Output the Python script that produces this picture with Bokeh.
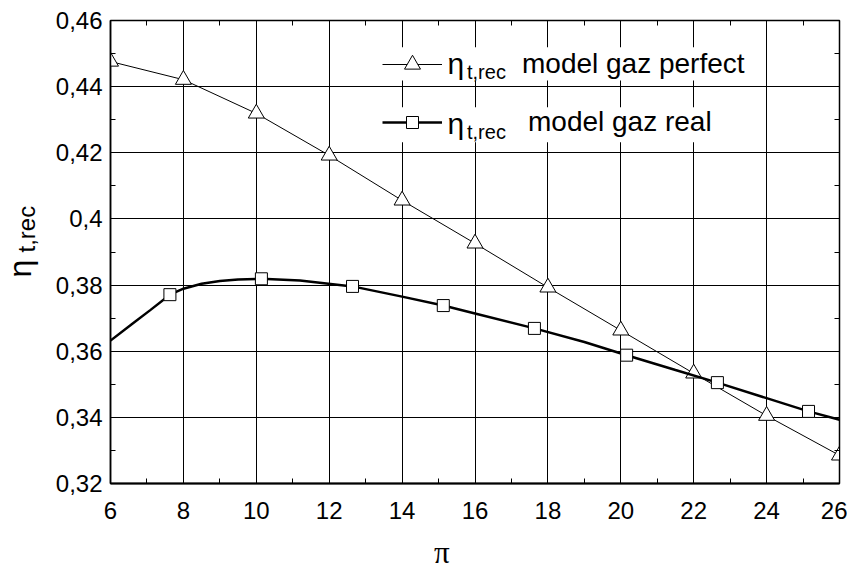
import numpy as np
from bokeh.plotting import figure
from bokeh.layouts import row, column
from bokeh.models import (Range1d, FixedTicker, LinearAxis, Legend, LegendItem, Label,
                          BoxAnnotation)
from bokeh.core.properties import value
from bokeh.embed import file_html
from bokeh.resources import INLINE

# ---------------- data ----------------
x_ticks = [6, 8, 10, 12, 14, 16, 18, 20, 22, 24, 26]
x_minor = [7, 9, 11, 13, 15, 17, 19, 21, 23, 25]
x_tick_labels = ["6", "8", "10", "12", "14", "16", "18", "20", "22", "24", "26"]
y_ticks = [0.32, 0.34, 0.36, 0.38, 0.40, 0.42, 0.44, 0.46]
y_minor = [0.33, 0.35, 0.37, 0.39, 0.41, 0.43, 0.45]
y_tick_labels = ["0,32", "0,34", "0,36", "0,38", "0,4", "0,42", "0,44", "0,46"]

# model gaz perfect (triangles)
perfect_x = [6, 8, 10, 12, 14, 16, 18, 20, 22, 24, 26]
perfect_y = [0.4476, 0.4421, 0.4319, 0.4192, 0.4056, 0.3926, 0.3793, 0.3663, 0.3533, 0.3405, 0.3285]

# model gaz real (squares) - curve and markers
real_line_x = [6.0, 6.6, 7.1, 7.63, 8.0, 8.5, 9.0, 9.5, 10.14, 11.2, 12.64, 14.0, 15.13,
               16.0, 17.63, 19.0, 20.16, 21.5, 22.65, 24.0, 25.15, 26.0]
real_line_y = [0.3632, 0.3683, 0.3725, 0.3771, 0.3789, 0.3804, 0.3812, 0.3817, 0.3819, 0.3814,
               0.3796, 0.3765, 0.3738, 0.3714, 0.3669, 0.3628, 0.3588, 0.3543, 0.3505, 0.3458,
               0.3418, 0.3393]
real_marker_x = [7.63, 10.14, 12.64, 15.13, 17.63, 20.16, 22.65, 25.15]
real_marker_y = [0.3771, 0.3819, 0.3796, 0.3738, 0.3669, 0.3588, 0.3505, 0.3418]

legend_labels = ["model gaz perfect", "model gaz real"]
eta_text = "\u03b7"
sub_text = "t,rec"
x_title = "\u03c0"

FONT = "Liberation Sans"

LEFT_W = 40
MAIN_W = 807
MAIN_H = 532
TOTAL_H = 569

# ---------------- main plot ----------------
p = figure(width=MAIN_W, height=MAIN_H, x_range=Range1d(6, 26), y_range=Range1d(0.32, 0.46),
           output_backend="svg", toolbar_location=None,
           min_border_left=70, min_border_right=8, min_border_top=20, min_border_bottom=49,
           x_axis_location=None, y_axis_location=None)
p.outline_line_color = "black"
p.outline_line_width = 1.5
p.background_fill_color = "white"
p.border_fill_color = "white"

xt = FixedTicker(ticks=x_ticks, minor_ticks=x_minor)
yt = FixedTicker(ticks=y_ticks, minor_ticks=y_minor)


def make_axis(ticker, labels=True, overrides=None):
    ax = LinearAxis(ticker=ticker)
    ax.major_tick_in = 5
    ax.major_tick_out = 0
    ax.minor_tick_in = 5
    ax.minor_tick_out = 0
    ax.axis_line_color = "black"
    ax.major_tick_line_color = "black"
    ax.minor_tick_line_color = "black"
    if labels:
        ax.major_label_text_font = FONT
        ax.major_label_text_font_size = "24px"
        ax.major_label_text_color = "black"
        if overrides:
            ax.major_label_overrides = overrides
    else:
        ax.major_label_text_font_size = "0px"
        ax.major_label_text_color = None
    return ax


bottom = make_axis(xt, True, {t: l for t, l in zip(x_ticks, x_tick_labels)})
bottom.axis_line_width = 2
bottom.major_label_standoff = 18
left = make_axis(yt, True, {t: l for t, l in zip(y_ticks, y_tick_labels)})
left.axis_line_width = 1.5
left.major_label_standoff = 8
top = make_axis(xt, False)
right = make_axis(yt, False)
p.add_layout(bottom, "below")
p.add_layout(left, "left")
p.add_layout(top, "above")
p.add_layout(right, "right")

p.xgrid.ticker = xt
p.ygrid.ticker = yt
for g in (p.xgrid, p.ygrid):
    g.grid_line_color = "black"
    g.grid_line_width = 1

# white boxes behind the two legend entries (hide the grid there)
p.add_layout(BoxAnnotation(left=13.41, right=23.83, top=0.45193, bottom=0.44186,
                           fill_color="white", fill_alpha=1, line_color=None, level="glyph"))
p.add_layout(BoxAnnotation(left=13.41, right=23.15, top=0.43378, bottom=0.4232,
                           fill_color="white", fill_alpha=1, line_color=None, level="glyph"))

# series
l1 = p.line(perfect_x, perfect_y, line_color="black", line_width=1)
s1 = p.scatter(perfect_x, perfect_y, marker="triangle", size=16, fill_color="white",
               line_color="black", line_width=1)
l2 = p.line(real_line_x, real_line_y, line_color="black", line_width=2.5)
s2 = p.scatter(real_marker_x, real_marker_y, marker="square", size=12, fill_color="white",
               line_color="black", line_width=1)

# legends (transparent, one per entry)
leg1 = Legend(items=[LegendItem(label=legend_labels[0], renderers=[l1, s1])],
              location=(272, 399), glyph_width=60, glyph_height=40, label_height=40,
              label_standoff=80, padding=0, margin=0, border_line_color=None,
              background_fill_alpha=0,
              label_text_font=FONT, label_text_font_size="28px", label_text_color="black")
leg2 = Legend(items=[LegendItem(label=legend_labels[1], renderers=[l2, s2])],
              location=(272, 345), glyph_width=60, glyph_height=30, label_height=30,
              label_standoff=86, padding=0, margin=0, border_line_color=None,
              background_fill_alpha=0,
              label_text_font=FONT, label_text_font_size="28px", label_text_color="black")
p.add_layout(leg1, "center")
p.add_layout(leg2, "center")

# eta_{t,rec} parts of the legend labels
for ym, ys in [(0.4470, 0.44446), (0.42898, 0.42631)]:
    p.add_layout(Label(x=15.245, y=ym, text=eta_text, text_font=FONT, text_font_size="30px",
                       text_baseline="middle", text_align="left", text_color="black",
                       level="overlay"))
    p.add_layout(Label(x=15.78, y=ys, text=sub_text, text_font=FONT, text_font_size="20px",
                       text_baseline="middle", text_align="left", text_color="black",
                       level="overlay"))

# ---------------- y axis title (left strip) ----------------
ly = figure(width=LEFT_W, height=TOTAL_H, x_range=Range1d(0, LEFT_W), y_range=Range1d(0, TOTAL_H),
            output_backend="svg", toolbar_location=None, min_border=0,
            min_border_left=0, min_border_right=0, min_border_top=0, min_border_bottom=0,
            x_axis_location=None, y_axis_location=None)
ly.outline_line_color = None
ly.xgrid.visible = False
ly.ygrid.visible = False
ly.text(x=[19.4], y=[TOTAL_H - 277], text=[eta_text], angle=np.pi / 2,
        text_font=value(FONT), text_font_size="32px", text_baseline="middle",
        text_align="left", text_color="black")
ly.text(x=[26], y=[TOTAL_H - 252], text=[sub_text], angle=np.pi / 2,
        text_font=value(FONT), text_font_size="24px", text_baseline="middle",
        text_align="left", text_color="black")

# ---------------- x axis title (bottom strip) ----------------
BOT_H = TOTAL_H - MAIN_H
bx = figure(width=MAIN_W, height=BOT_H, x_range=Range1d(0, MAIN_W), y_range=Range1d(0, BOT_H),
            output_backend="svg", toolbar_location=None, min_border=0,
            min_border_left=0, min_border_right=0, min_border_top=0, min_border_bottom=0,
            x_axis_location=None, y_axis_location=None)
bx.outline_line_color = None
bx.xgrid.visible = False
bx.ygrid.visible = False
bx.text(x=[358], y=[TOTAL_H - 552], text=[x_title],
        text_font=value("Liberation Serif"), text_font_size="31px",
        text_baseline="middle", text_align="left", text_color="black")

layout = row(ly, column(p, bx, spacing=0), spacing=0)

open("out.html", "w").write(file_html(layout, INLINE))
